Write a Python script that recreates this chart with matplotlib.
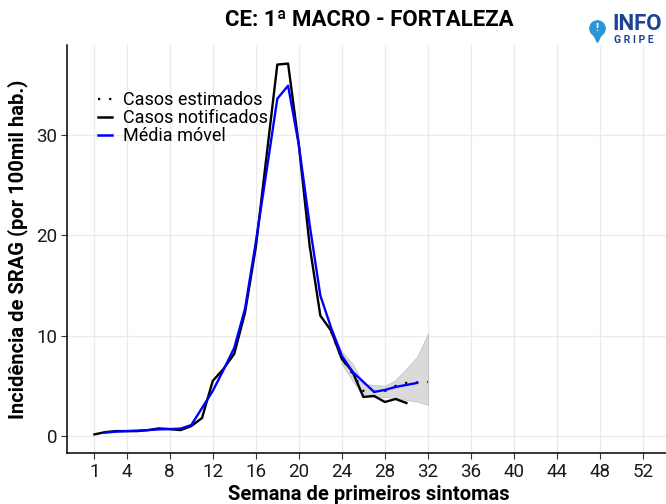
import numpy as np
import matplotlib.pyplot as plt
from matplotlib.lines import Line2D

plt.rcParams['font.family'] = ['Roboto', 'DejaVu Sans']

# === data ===
weeks_notif = list(range(1, 31))
notificados = [0.17, 0.4, 0.5, 0.5, 0.5, 0.6, 0.77, 0.7, 0.6, 1.0,
               1.8, 5.5, 6.7, 8.2, 12.3, 18.8, 27.9, 37.0, 37.1, 29.0,
               19.0, 12.0, 10.5, 7.7, 6.4, 3.9, 4.0, 3.4, 3.7, 3.3]

weeks_mm = list(range(2, 32))
media_movel = [0.35, 0.45, 0.5, 0.55, 0.6, 0.67, 0.7, 0.75, 1.1, 2.8,
               4.5, 6.6, 8.8, 12.7, 19.3, 26.4, 33.6, 34.9, 29.0, 21.1,
               14.0, 10.8, 8.0, 6.4, 5.4, 4.4, 4.6, 4.9, 5.1, 5.3]

weeks_est = list(range(23, 33))
estimados = [10.4, 7.7, 6.2, 4.5, 4.4, 4.5, 5.0, 5.3, 5.35, 5.4]
est_upper = [10.6, 8.4, 7.2, 5.2, 5.1, 5.0, 5.6, 6.7, 7.9, 10.2]
est_lower = [10.2, 7.2, 5.5, 4.0, 3.95, 3.9, 3.8, 3.6, 3.45, 3.1]

x_ticks = [1, 4, 8, 12, 16, 20, 24, 28, 32, 36, 40, 44, 48, 52]
y_ticks = [0, 10, 20, 30]

fig = plt.figure(figsize=(6.66, 5.04), dpi=100)
ax = fig.add_axes([67 / 666, 1 - 453 / 504, (670.5 - 67) / 666, (453 - 45) / 504])

# uncertainty band and lines
ax.fill_between(weeks_est, est_lower, est_upper, color='#d4d4d4', alpha=0.85,
                edgecolor='#bdbdbd', linewidth=0.6, zorder=2)
ax.plot(weeks_notif, notificados, color='black', lw=1.7, zorder=3)
ax.plot(weeks_est, estimados, color='black', lw=1.6, linestyle=(0, (1, 4)), zorder=4)
ax.plot(weeks_mm, media_movel, color='#0000ff', lw=1.7, zorder=5)

ax.set_xlim(-1.55, 54.55)
ax.set_ylim(-1.68, 38.95)
ax.set_xticks(x_ticks)
ax.set_yticks(y_ticks)
ax.tick_params(labelsize=13.5, length=4, width=0.8, color='#333333',
               labelcolor='#1a1a1a', pad=3)
ax.grid(True, color='#ebebeb', linewidth=1.0, zorder=0)
ax.set_axisbelow(True)
for side in ['top', 'right']:
    ax.spines[side].set_visible(False)
for side in ['left', 'bottom']:
    ax.spines[side].set_linewidth(1.1)
    ax.spines[side].set_color('black')

ax.set_xlabel('Semana de primeiros sintomas', fontsize=14.5, fontweight='bold', labelpad=3)
ax.set_ylabel('Incidência de SRAG (por 100mil hab.)', fontsize=14.5, fontweight='bold', labelpad=6)

fig.text(0.555, 0.960, 'CE: 1ª MACRO - FORTALEZA', ha='center', va='center',
         fontsize=16, fontweight='bold')

# legend
handles = [Line2D([], [], color='black', lw=1.6, linestyle=(0, (1, 4))),
           Line2D([], [], color='black', lw=1.8),
           Line2D([], [], color='#0000ff', lw=1.8)]
labels = ['Casos estimados', 'Casos notificados', 'Média móvel']
ax.legend(handles, labels, loc='upper left', bbox_to_anchor=(0.037, 0.909),
          frameon=False, fontsize=13, handlelength=0.75, handletextpad=0.6,
          labelspacing=0.0, borderpad=0)

# InfoGripe logo
fig.add_artist(Line2D([597 / 666], [1 - 37 / 504], marker='v', markersize=7,
                      color='#2a96d4', transform=fig.transFigure))
fig.add_artist(Line2D([597 / 666], [1 - 28 / 504], marker='o', markersize=11,
                      color='#2a96d4', transform=fig.transFigure))
fig.text(597 / 666, 1 - 28 / 504, '!', color='white', fontsize=8, fontweight='bold',
         ha='center', va='center')
fig.text(612 / 666, 1 - 24 / 504, 'INFO', color='#1f4394', fontsize=16, fontweight='bold',
         ha='left', va='center')
fig.text(614 / 666, 1 - 40 / 504, 'G R I P E', color='#1f4394', fontsize=7.5, fontweight='bold',
         ha='left', va='center')

fig.savefig('out.png', dpi=100)
